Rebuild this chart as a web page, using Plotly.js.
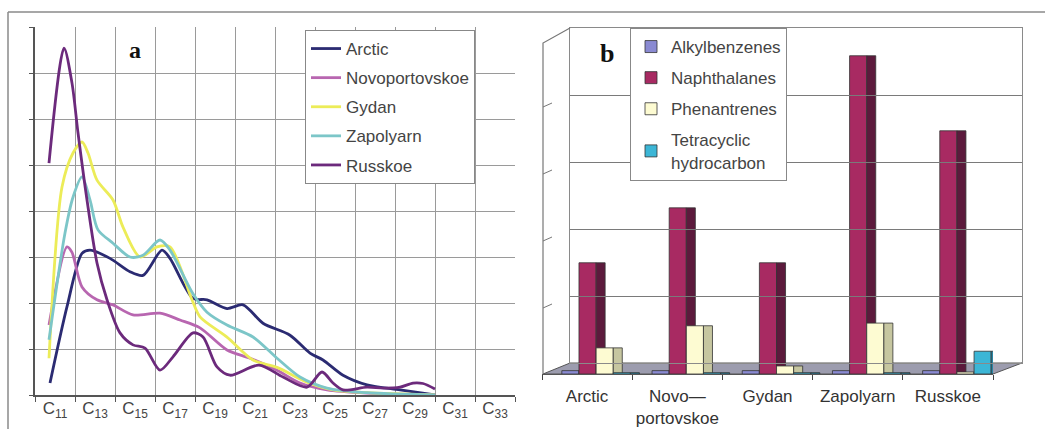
<!DOCTYPE html>
<html>
<head>
<meta charset="utf-8">
<script src="https://cdn.plot.ly/plotly-3.0.1.min.js"></script>
<style>html,body{margin:0;padding:0;background:#fff;}#chart{width:1045px;height:429px;}</style>
</head>
<body>
<div id="chart"></div>
<script>
// ---------- Panel a: carbon-number distributions ----------
const carbonTicks = [11, 13, 15, 17, 19, 21, 23, 25, 27, 29, 31, 33];
const carbonGrid = [10, 12, 14, 16, 18, 20, 22, 24, 26, 28, 30, 32, 34];

const arcticX = [10.75, 11.6, 12.35, 12.75, 13.75, 14.75, 15.4, 16.35, 16.75, 17.9, 18.6, 19.6, 20.4, 21.4, 22.75, 23.75, 24.4, 25.4, 26.6, 28.25, 30.0];
const arcticY = [0.26, 1.92, 3.08, 3.15, 2.97, 2.68, 2.6, 3.15, 2.97, 2.1, 2.07, 1.88, 1.96, 1.56, 1.3, 0.91, 0.76, 0.43, 0.22, 0.11, 0.0];

const novoX = [10.7, 11.6, 11.85, 12.35, 13.1, 13.9, 14.9, 16.25, 17.25, 18.25, 19.6, 20.75, 22.1, 23.25, 24.6, 26.6, 30.0];
const novoY = [1.52, 3.22, 3.1, 2.35, 2.07, 1.96, 1.74, 1.78, 1.63, 1.46, 0.98, 0.8, 0.54, 0.26, 0.11, 0.04, 0.0];

const gydanX = [10.7, 11.35, 11.9, 12.35, 12.65, 13.1, 13.9, 14.4, 15.25, 16.1, 16.75, 17.85, 18.25, 19.6, 20.9, 22.1, 23.6, 24.9, 26.6, 30.0];
const gydanY = [0.8, 4.52, 5.26, 5.5, 5.26, 4.67, 4.24, 3.65, 3.0, 3.22, 3.22, 2.07, 1.7, 1.26, 0.76, 0.6, 0.28, 0.11, 0.05, 0.0];

const zapolyarnX = [10.7, 11.5, 11.9, 12.35, 12.75, 13.15, 13.9, 14.75, 15.4, 16.25, 16.75, 17.9, 18.6, 19.6, 20.9, 22.1, 23.25, 24.6, 26.6, 30.0];
const zapolyarnY = [1.2, 3.52, 4.3, 4.74, 4.24, 3.59, 3.3, 3.0, 3.04, 3.37, 3.15, 2.2, 1.8, 1.52, 1.26, 0.8, 0.39, 0.15, 0.05, 0.0];

const russkoeX = [10.7, 11.45, 11.85, 12.15, 12.6, 13.1, 13.6, 14.25, 14.9, 15.5, 16.25, 16.9, 17.9, 18.4, 19.1, 19.75, 21.2, 22.4, 23.6, 24.35, 24.9, 25.4, 26.6, 27.4, 28.25, 28.9, 29.4, 30.0];
const russkoeY = [5.04, 7.54, 6.78, 5.7, 4.24, 2.87, 2.07, 1.35, 1.09, 1.02, 0.54, 0.83, 1.35, 1.26, 0.61, 0.43, 0.65, 0.39, 0.17, 0.5, 0.26, 0.11, 0.17, 0.15, 0.17, 0.26, 0.25, 0.13];

const lineNames = ["Arctic", "Novoportovskoe", "Gydan", "Zapolyarn", "Russkoe"];
const lineColors = ["#2b2b72", "#b866b0", "#ecec58", "#7cc6c8", "#6c2a7c"];

// ---------- Panel b: hydrocarbon groups ----------
const fields = ["Arctic", "Novo\u2014<br>portovskoe", "Gydan", "Zapolyarn", "Russkoe"];
const alkylbenzenes = [0.05, 0.05, 0.05, 0.05, 0.05];
const naphthalanes = [1.66, 2.48, 1.66, 4.75, 3.63];
const phenantrenes = [0.39, 0.72, 0.12, 0.76, 0.03];
const tetracyclic = [0.02, 0.02, 0.02, 0.02, 0.34];

const barNames = ["Alkylbenzenes", "Naphthalanes", "Phenantrenes", "Tetracyclic<br>hydrocarbon"];
const barFront = ["#8a8ad2", "#a82a62", "#fdfbd2", "#3cb6d6"];
const barSide = ["#5a5a98", "#5c1a3c", "#c6c6a0", "#2a86a4"];

// ---------- build ----------
const W = 1045, H = 429;
const px = v => v / W, py = v => 1 - v / H;
const FONT = "Liberation Sans, Arial, sans-serif";

const traces = [];
const lineX = [arcticX, novoX, gydanX, zapolyarnX, russkoeX];
const lineY = [arcticY, novoY, gydanY, zapolyarnY, russkoeY];
lineNames.forEach((n, i) => {
  traces.push({
    type: "scatter", mode: "lines", name: n,
    x: lineX[i], y: lineY[i],
    xaxis: "x", yaxis: "y",
    line: {color: lineColors[i], width: 2.8, shape: "spline", smoothing: 0.8},
    legend: "legend", legendgroup: "a" + i
  });
});

const barSeries = [alkylbenzenes, naphthalanes, phenantrenes, tetracyclic];
const offsets = [-0.28, -0.09, 0.10, 0.29];
const fw = 0.19, sw = 0.10;
const cats = fields.map((_, i) => i);
barSeries.forEach((vals, i) => {
  traces.push({
    type: "bar", name: barNames[i], x: cats, y: vals,
    xaxis: "x2", yaxis: "y2",
    offset: offsets[i], width: fw,
    marker: {color: barFront[i], line: {color: "#333", width: 0.8}},
    legend: "legend2", legendgroup: "b" + i
  });
  traces.push({
    type: "bar", name: barNames[i] + " side", x: cats, y: vals,
    xaxis: "x2", yaxis: "y2",
    offset: offsets[i] + fw, width: sw,
    marker: {color: barSide[i], line: {color: "#333", width: 0.8}},
    showlegend: false, hoverinfo: "skip"
  });
});

// helper invisible trace for back wall axes
traces.push({type: "scatter", x: [0], y: [0], xaxis: "x3", yaxis: "y3", mode: "markers",
  marker: {opacity: 0}, showlegend: false, hoverinfo: "skip"});

const shapes = [];
// outer frame
shapes.push({type: "line", xref: "paper", yref: "paper", x0: px(8), x1: 1, y0: py(12), y1: py(12), line: {color: "#8a8a8a", width: 1.5}});
shapes.push({type: "line", xref: "paper", yref: "paper", x0: px(8), x1: px(8), y0: py(12), y1: 0, line: {color: "#8a8a8a", width: 1.5}});
// panel b floor
shapes.push({type: "path", xref: "paper", yref: "paper", layer: "below",
  path: `M ${px(543)} ${py(374)} L ${px(993)} ${py(374)} L ${px(1022)} ${py(363)} L ${px(570)} ${py(363)} Z`,
  fillcolor: "#9c9cae", line: {color: "#555", width: 1}});
// panel b left wall
shapes.push({type: "path", xref: "paper", yref: "paper",
  path: `M ${px(543)} ${py(374)} L ${px(543)} ${py(43)} L ${px(570)} ${py(28)}`,
  line: {color: "#777", width: 1.2}});
for (let k = 1; k < 5; k++) {
  const yb = 363 - k * 67;
  shapes.push({type: "line", xref: "paper", yref: "paper", x0: px(543), y0: py(yb + 12), x1: px(552), y1: py(yb + 8),
    line: {color: "#777", width: 1}});
}

const annotations = [
  {xref: "paper", yref: "paper", x: px(135), y: py(50), xanchor: "center", yanchor: "middle", text: "a", showarrow: false,
   font: {family: "Liberation Serif, Times New Roman, serif", size: 24, color: "#111", weight: "bold"}},
  {xref: "paper", yref: "paper", x: px(607), y: py(54), xanchor: "center", yanchor: "middle", text: "b", showarrow: false,
   font: {family: "Liberation Serif, Times New Roman, serif", size: 26, color: "#111", weight: "bold"}}
];

const layout = {
  width: W, height: H,
  margin: {l: 0, r: 0, t: 0, b: 0},
  paper_bgcolor: "#fff", plot_bgcolor: "rgba(0,0,0,0)",
  font: {family: FONT, color: "#333", size: 16},
  showlegend: true,
  barmode: "overlay",
  xaxis: {
    anchor: "y",
    domain: [px(35), px(515)], range: [10, 34],
    tickmode: "array", tickvals: carbonTicks,
    ticktext: carbonTicks.map(c => "C<sub>" + c + "</sub>"),
    ticks: "", showgrid: false, zeroline: false,
    showline: true, linecolor: "#555", linewidth: 2,
    tickfont: {size: 17, color: "#444"}, ticklabelstandoff: -3,
    minor: {tickmode: "array", tickvals: carbonGrid, showgrid: true, gridcolor: "#9a9a9a", gridwidth: 1,
            ticks: "outside", ticklen: 5, tickcolor: "#555"},
    fixedrange: true
  },
  yaxis: {
    anchor: "x",
    domain: [py(395), py(27)], range: [0, 8], dtick: 1,
    showticklabels: false, ticks: "outside", ticklen: 4, tickcolor: "#555",
    showgrid: true, gridcolor: "#9a9a9a", zeroline: false,
    showline: true, linecolor: "#555", linewidth: 2, fixedrange: true
  },
  xaxis2: {
    anchor: "y2",
    domain: [px(542), px(993)], range: [-0.5, 4.5],
    tickmode: "array", tickvals: cats, ticktext: fields,
    ticks: "", showgrid: false, zeroline: false,
    showline: true, linecolor: "#555", linewidth: 1.2,
    tickfont: {size: 17, color: "#333"}, ticklabelstandoff: 6,
    minor: {tickmode: "array", tickvals: [-0.5, 0.5, 1.5, 2.5, 3.5, 4.5], ticks: "outside", ticklen: 5, tickcolor: "#444", showgrid: false},
    fixedrange: true
  },
  yaxis2: {
    anchor: "x2",
    domain: [py(374), py(39)], range: [0, 5],
    showticklabels: false, showgrid: false, zeroline: false, showline: false, fixedrange: true
  },
  xaxis3: {
    anchor: "y3",
    domain: [px(570), px(1022)], range: [0, 1],
    showticklabels: false, ticks: "", showgrid: false, zeroline: false,
    showline: true, mirror: true, linecolor: "#8a8a8a", linewidth: 1.2, fixedrange: true
  },
  yaxis3: {
    anchor: "x3",
    domain: [py(363), py(28)], range: [0, 5], dtick: 1,
    showticklabels: false, ticks: "", showgrid: true, gridcolor: "#7a7a7a", gridwidth: 1,
    zeroline: false, showline: true, mirror: true, linecolor: "#8a8a8a", linewidth: 1.2, fixedrange: true
  },
  legend: {
    x: px(305), y: py(30), xanchor: "left", yanchor: "top",
    bgcolor: "#fff", bordercolor: "#888", borderwidth: 1,
    font: {family: FONT, size: 17, color: "#444"},
    traceorder: "grouped", tracegroupgap: 4, itemwidth: 30
  },
  legend2: {
    x: px(630), y: py(28), xanchor: "left", yanchor: "top",
    bgcolor: "#fff", bordercolor: "#888", borderwidth: 1,
    font: {family: FONT, size: 17, color: "#444"},
    traceorder: "grouped", tracegroupgap: 6, itemwidth: 30
  },
  shapes: shapes,
  annotations: annotations
};

Plotly.newPlot("chart", traces, layout, {displayModeBar: false, staticPlot: true});
</script>
</body>
</html>
